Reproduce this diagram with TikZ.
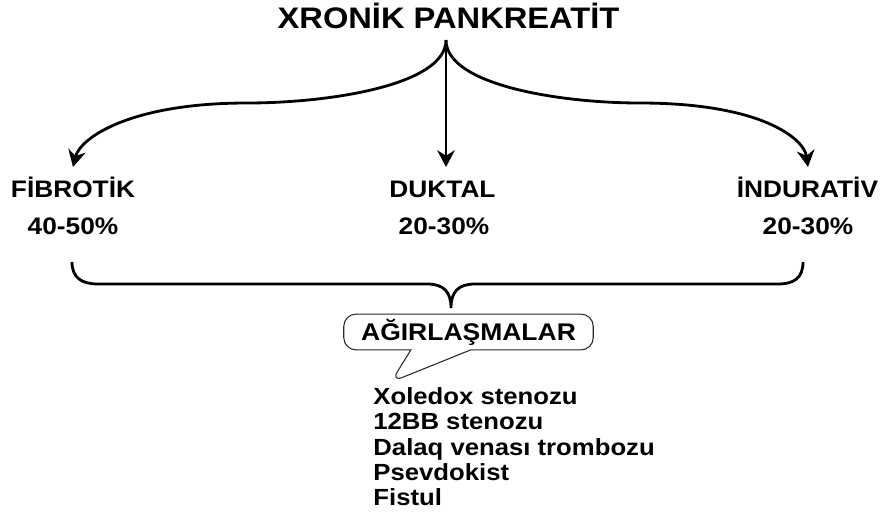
\documentclass[tikz,border=0pt]{standalone}
\usepackage{fontspec}
\setmainfont{Liberation Sans}[FakeStretch=1.1]
\usetikzlibrary{arrows.meta,shapes.callouts}

\begin{document}
\begin{tikzpicture}[x=0.02cm, y=-0.02cm, line width=1.6pt,
  lbl/.style={font=\bfseries\fontsize{13.6}{15}\selectfont, anchor=base, inner sep=0pt},
  arr/.style={-{Stealth[length=9.5pt,width=10pt]}},
  item/.style={font=\bfseries\fontsize{13.3}{15}\selectfont, anchor=base west, inner sep=0pt}]
  \useasboundingbox (0,0) rectangle (882,518);
  \node[lbl, font=\bfseries\fontsize{16.9}{19}\selectfont] (title) at (448.5,28) {XRONİK PANKREATİT};
  \coordinate (split) at (446,40);
  \coordinate (fibtip) at (73,167);
  \coordinate (duktip) at (446,167);
  \coordinate (indtip) at (808,167);
  \draw[arr] (split) .. controls (446,85) and (330,103) .. (247,103) .. controls (130,103) and (80,138) .. (fibtip);
  \draw[arr] (split) -- (duktip);
  \draw[arr] (split) .. controls (446,85) and (560,103) .. (640,103) .. controls (760,103) and (804,138) .. (indtip);
  \node[lbl] (fib) at (73,197) {FİBROTİK};
  \node[lbl] (duk) at (442.5,197) {DUKTAL};
  \node[lbl] (ind) at (807.5,197) {İNDURATİV};
  \node[lbl] (fibp) at (73,234) {40-50\%};
  \node[lbl] (dukp) at (444,234) {20-30\%};
  \node[lbl] (indp) at (808,234) {20-30\%};
  \draw (72,262) .. controls (72,278) and (82,284) .. (98,284) -- (427,284)
    .. controls (444,284) and (451,292) .. (451,308)
    .. controls (451,292) and (458,284) .. (475,284) -- (778,284)
    .. controls (794,284) and (803,278) .. (803,262);
  \coordinate (agrtip) at (391,382);
  \node[rectangle callout, draw=black!85, line width=0.6pt, rounded corners=7pt,
    minimum width=142pt, minimum height=20.4pt, inner sep=0pt,
    callout absolute pointer={(agrtip)}, callout pointer width=34pt,
    font=\bfseries\fontsize{13.7}{15}\selectfont] (agr) at (468.5,332) {AĞIRLAŞMALAR};
  \node[item] (it1) at (372,404) {Xoledox stenozu};
  \node[item] (it2) at (372,429.5) {12BB stenozu};
  \node[item] (it3) at (372,455) {Dalaq venası trombozu};
  \node[item] (it4) at (372,480) {Psevdokist};
  \node[item] (it5) at (372,505) {Fistul};
\end{tikzpicture}
\end{document}
